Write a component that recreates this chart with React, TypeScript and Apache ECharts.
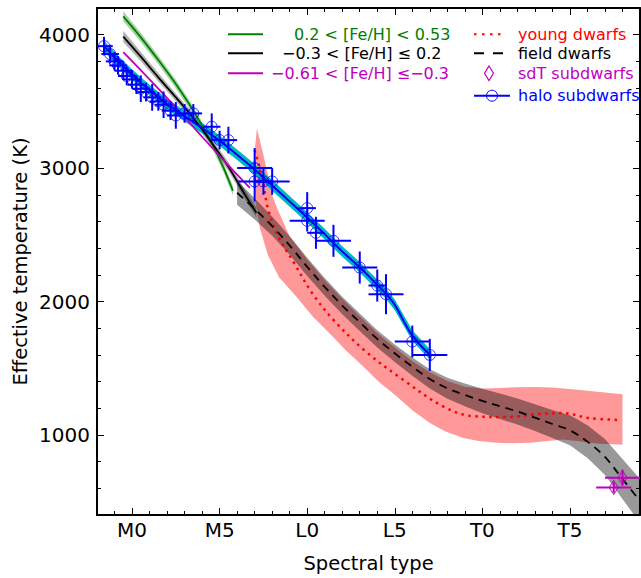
import React, { useEffect, useRef } from "react";
import * as echarts from "echarts";

// ---------- axis ticks ----------
const xTickValues = [0, 5, 10, 15, 20, 25];
const xTickLabels = ["M0", "M5", "L0", "L5", "T0", "T5"];
const yTickValues = [1000, 2000, 3000, 4000];

// ---------- 0.2 < [Fe/H] < 0.53 (green) ----------
const richSpT = [-0.5, 0.5, 1.5, 2.5, 3.5, 4.5, 5.2, 5.76];
const richT = [4137, 3980, 3810, 3630, 3430, 3200, 3010, 2830];
const richHi = [4175, 4015, 3843, 3662, 3462, 3232, 3043, 2865];
const richLo = [4100, 3946, 3778, 3598, 3398, 3168, 2977, 2795];

// ---------- -0.3 < [Fe/H] <= 0.2 (black) ----------
const solarSpT = [-0.5, 0.5, 1.5, 2.5, 3.5, 4.5, 5.5, 6.5, 7.1];
const solarT = [3985, 3835, 3680, 3530, 3375, 3200, 3010, 2790, 2665];
const solarHi = [4030, 3872, 3712, 3560, 3405, 3232, 3045, 2828, 2705];
const solarLo = [3945, 3800, 3650, 3502, 3347, 3170, 2978, 2755, 2628];

// ---------- -0.61 < [Fe/H] <= -0.3 (magenta) ----------
const poorSpT = [-0.5, 1, 2.5, 4, 5.5, 6.73];
const poorT = [3870, 3665, 3455, 3235, 3020, 2851];

// ---------- halo subdwarf fit (blue + cyan band) ----------
const haloFitSpT = [-1.6, -1, 0, 1, 2, 3, 4, 5, 6, 7, 8, 9, 10, 11, 12, 13, 14, 14.5, 15, 16, 17.1];
const haloFitT = [3914, 3830, 3700, 3585, 3480, 3390, 3300, 3205, 3100, 2990, 2870, 2750, 2630, 2505, 2375, 2257, 2125, 2058, 1975, 1745, 1590];
const haloFitHi = [3954, 3870, 3740, 3625, 3520, 3430, 3340, 3245, 3140, 3030, 2910, 2790, 2670, 2545, 2415, 2297, 2165, 2098, 2015, 1785, 1630];
const haloFitLo = [3874, 3790, 3660, 3545, 3440, 3350, 3260, 3165, 3060, 2950, 2830, 2710, 2590, 2465, 2335, 2217, 2085, 2018, 1935, 1705, 1550];

// ---------- halo subdwarfs data: [SpT, Teff, SpT err, Teff err] ----------
const haloSpT = [-1.6, -1.25, -1.0, -0.8, -0.5, -0.3, 0, 0.25, 0.5, 0.8, 1.15, 1.5, 1.8, 2.2, 2.5, 3.0, 3.5, 4.55, 5.0, 5.5, 7.0, 7.0, 7.5, 8.0, 10.0, 10.0, 10.5, 11.5, 13.0, 14.0, 14.5, 16.0, 17.0];
const haloTeff = [3914, 3855, 3800, 3770, 3730, 3690, 3665, 3625, 3595, 3570, 3530, 3500, 3475, 3430, 3395, 3410, 3410, 3310, 3210, 3210, 3000, 2900, 2900, 2900, 2700, 2605, 2515, 2455, 2255, 2120, 2055, 1700, 1600];
const haloSpTErr = [0.5, 0.5, 0.5, 0.5, 0.5, 0.5, 0.5, 0.5, 0.5, 0.5, 0.5, 0.5, 0.5, 0.5, 0.5, 0.5, 0.5, 0.5, 0.5, 0.5, 1, 1, 0.5, 1, 0.5, 1, 0.5, 1, 1, 0.5, 1, 1, 1];
const haloTeffErr = [70, 70, 70, 70, 70, 70, 70, 70, 100, 70, 100, 70, 100, 70, 100, 70, 70, 100, 70, 100, 150, 150, 100, 100, 120, 80, 120, 120, 120, 120, 150, 120, 120];

// ---------- sdT subdwarfs ----------
const sdtSpT = [27.5, 28.0];
const sdtTeff = [606, 680];
const sdtSpTErr = [1, 1];
const sdtTeffErr = [40, 60];

// ---------- field dwarfs (dashed + grey band) ----------
const fieldSpT = [6, 7, 8, 9, 10, 11, 12, 13, 14, 15, 16, 17, 18, 19, 20, 21, 22, 23, 24, 25, 26, 27, 28, 29];
const fieldT = [2815, 2695, 2565, 2420, 2260, 2110, 1970, 1845, 1720, 1612, 1512, 1420, 1350, 1300, 1255, 1215, 1176, 1130, 1082, 1035, 950, 835, 670, 505];
const fieldHi = [2905, 2775, 2637, 2490, 2328, 2176, 2035, 1910, 1785, 1678, 1580, 1492, 1428, 1385, 1347, 1311, 1274, 1230, 1187, 1147, 1072, 970, 820, 670];
const fieldLo = [2725, 2615, 2493, 2350, 2192, 2044, 1905, 1780, 1655, 1546, 1444, 1348, 1272, 1215, 1163, 1119, 1078, 1030, 977, 923, 828, 700, 520, 340];

// ---------- young dwarfs (dotted + red band) ----------
const youngSpT = [7.0, 7.47, 7.75, 8.3, 9.2, 10.3, 11.5, 13.3, 15.45, 17.73, 19.44, 21.4, 23.1, 24.6, 26.1, 27.9];
const youngT = [3134, 2903, 2700, 2500, 2300, 2060, 1862, 1630, 1416, 1216, 1141, 1134, 1156, 1164, 1126, 1112];
const youngUpSpT = [7.13, 7.5, 8.0, 8.27, 9, 10, 11, 12, 13, 14, 15, 16, 17, 18, 19, 20, 21, 22, 23, 24, 25, 26, 27, 28];
const youngUpT = [3297, 3100, 2800, 2703, 2490, 2315, 2160, 2020, 1890, 1765, 1655, 1555, 1470, 1405, 1362, 1348, 1352, 1358, 1360, 1355, 1345, 1332, 1318, 1305];
const youngLoSpT = [7.13, 7.02, 6.98, 7.05, 7.3, 7.75, 8.4, 9.4, 10.3, 11.3, 12.2, 13.2, 14.1, 15.1, 16.0, 17.0, 17.9, 18.9, 19.8, 20.8, 21.7, 22.7, 23.6, 24.6, 25.5, 26.5, 28];
const youngLoT = [3297, 3150, 2950, 2750, 2550, 2350, 2180, 2033, 1890, 1758, 1635, 1513, 1397, 1290, 1185, 1089, 1025, 978, 955, 941, 938, 941, 952, 965, 952, 935, 926];

const FONT = "DejaVu Sans";

const zip = (a: number[], b: number[]) => a.map((v, i) => [v, b[i]]);

function clipRect(params: any) {
  const cs = params.coordSys;
  return { type: "rect", shape: { x: cs.x, y: cs.y, width: cs.width, height: cs.height } };
}

function bandSeries(upper: number[][], lower: number[][], fill: string, z: number) {
  return {
    type: "custom",
    silent: true,
    z,
    data: [[0, 1000]],
    encode: { x: 0, y: 1 },
    renderItem: (params: any, api: any) => {
      const pts = [...upper, ...lower.slice().reverse()].map((p) => api.coord(p));
      return {
        type: "polygon",
        shape: { points: pts },
        style: { fill, stroke: "none" },
        clipPath: clipRect(params),
      };
    },
  };
}

function errorSeries(s: number[], t: number[], se: number[], te: number[], color: string, z: number) {
  return {
    type: "custom",
    silent: true,
    z,
    data: s.map((v, i) => [v, t[i], se[i], te[i]]),
    encode: { x: 0, y: 1 },
    renderItem: (params: any, api: any) => {
      const x = api.value(0), y = api.value(1), xe = api.value(2), ye = api.value(3);
      const l = api.coord([x - xe, y]), r = api.coord([x + xe, y]);
      const tp = api.coord([x, y + ye]), bt = api.coord([x, y - ye]);
      return {
        type: "group",
        clipPath: clipRect(params),
        children: [
          { type: "line", shape: { x1: l[0], y1: l[1], x2: r[0], y2: r[1] }, style: { stroke: color, lineWidth: 2 } },
          { type: "line", shape: { x1: tp[0], y1: tp[1], x2: bt[0], y2: bt[1] }, style: { stroke: color, lineWidth: 2 } },
        ],
      };
    },
  };
}

function lineSeries(s: number[], t: number[], color: string, width: number, z: number, type: any = "solid") {
  return {
    type: "line",
    data: zip(s, t),
    showSymbol: false,
    smooth: 0.35,
    silent: true,
    z,
    lineStyle: { color, width, type },
  };
}

const axisCommon = {
  type: "value",
  splitLine: { show: false },
  axisLine: { show: false, onZero: false },
};

export default function App() {
  const ref = useRef<HTMLDivElement>(null);
  useEffect(() => {
    if (!ref.current) return;
    const chart = echarts.init(ref.current, undefined, { renderer: "svg" });
    const tickStyle = { color: "#000", width: 1 };
    const frameLine = { show: true, onZero: false, lineStyle: { color: "#000", width: 2 } };
    const xMinor = (pos: string, extra: any = {}) => ({
      ...axisCommon,
      position: pos,
      min: -2,
      max: 29,
      interval: 1,
      axisTick: { show: true, inside: true, length: 4, lineStyle: tickStyle },
      axisLabel: { show: false },
      ...extra,
    });
    const xMajor = (pos: string, labels: boolean) => ({
      ...axisCommon,
      position: pos,
      min: -2,
      max: 29,
      axisTick: { show: true, inside: true, length: 7, lineStyle: tickStyle, customValues: xTickValues },
      axisLabel: labels
        ? {
            show: true,
            customValues: xTickValues,
            formatter: (v: number) => xTickLabels[xTickValues.indexOf(v)] ?? "",
            color: "#000",
            fontSize: 20,
            fontFamily: FONT,
            margin: 5,
          }
        : { show: false },
    });
    const yMinor = (pos: string, extra: any = {}) => ({
      ...axisCommon,
      position: pos,
      min: 400,
      max: 4200,
      interval: 200,
      axisTick: { show: true, inside: true, length: 4, lineStyle: tickStyle },
      axisLabel: { show: false },
      ...extra,
    });
    const yMajor = (pos: string, labels: boolean) => ({
      ...axisCommon,
      position: pos,
      min: 400,
      max: 4200,
      axisTick: { show: true, inside: true, length: 7, lineStyle: tickStyle, customValues: yTickValues },
      axisLabel: labels
        ? {
            show: true,
            customValues: yTickValues,
            formatter: (v: number) => String(v),
            color: "#000",
            fontSize: 20,
            fontFamily: FONT,
            margin: 7,
          }
        : { show: false },
    });

    const legendText = (x: number, y: number, text: string, fill: string) => ({
      type: "text",
      x,
      y,
      z: 100,
      style: { text, fill, fontSize: 16, fontFamily: FONT, verticalAlign: "middle", align: "left" },
    });
    const legendLine = (x1: number, x2: number, y: number, stroke: string, dash?: number[]) => ({
      type: "line",
      z: 100,
      shape: { x1, y1: y, x2, y2: y },
      style: { stroke, lineWidth: 2, lineDash: dash },
    });

    chart.setOption({
      animation: false,
      backgroundColor: "#fff",
      grid: { left: 97, right: 1, top: 8, bottom: 58, containLabel: false },
      xAxis: [
        xMinor("bottom", {
          axisLine: frameLine,
          name: "Spectral type",
          nameLocation: "middle",
          nameGap: 38,
          nameTextStyle: { color: "#000", fontSize: 19.5, fontFamily: FONT },
        }),
        xMajor("bottom", true),
        xMinor("top", { axisLine: frameLine }),
        xMajor("top", false),
      ],
      yAxis: [
        yMinor("left", {
          axisLine: frameLine,
          name: "Effective temperature (K)",
          nameLocation: "middle",
          nameGap: 67,
          nameTextStyle: { color: "#000", fontSize: 19.5, fontFamily: FONT },
        }),
        yMajor("left", true),
        yMinor("right", { axisLine: frameLine }),
        yMajor("right", false),
      ],
      series: [
        bandSeries(zip(youngUpSpT, youngUpT), zip(youngLoSpT, youngLoT), "rgba(255,0,0,0.4)", 1),
        bandSeries(zip(fieldSpT, fieldHi), zip(fieldSpT, fieldLo), "rgba(0,0,0,0.4)", 2),
        bandSeries(zip(richSpT, richHi), zip(richSpT, richLo), "rgba(0,128,0,0.35)", 3),
        bandSeries(zip(solarSpT, solarHi), zip(solarSpT, solarLo), "rgba(0,0,0,0.3)", 3),
        bandSeries(zip(haloFitSpT, haloFitHi), zip(haloFitSpT, haloFitLo), "rgb(0,185,190)", 4),
        lineSeries(richSpT, richT, "#008000", 1.8, 5),
        lineSeries(solarSpT, solarT, "#000000", 1.8, 5),
        lineSeries(poorSpT, poorT, "#bf00bf", 1.8, 5),
        lineSeries(youngSpT, youngT, "#ff0000", 2.5, 6, [2.5, 4.5]),
        lineSeries(fieldSpT, fieldT, "#000000", 1.8, 6, [8, 6]),
        lineSeries(haloFitSpT, haloFitT, "#0000ff", 2, 7),
        errorSeries(haloSpT, haloTeff, haloSpTErr, haloTeffErr, "#0000ff", 8),
        {
          type: "scatter",
          z: 9,
          silent: true,
          data: zip(haloSpT, haloTeff),
          symbol: "circle",
          symbolSize: 11,
          itemStyle: { color: "transparent", borderColor: "#0000ff", borderWidth: 1 },
        },
        errorSeries(sdtSpT, sdtTeff, sdtSpTErr, sdtTeffErr, "#bf00bf", 8),
        {
          type: "scatter",
          z: 9,
          silent: true,
          data: zip(sdtSpT, sdtTeff),
          symbol: "diamond",
          symbolSize: [9, 14],
          itemStyle: { color: "transparent", borderColor: "#bf00bf", borderWidth: 1.2 },
        },
      ],
      graphic: [
        legendLine(228, 263, 34.3, "#008000"),
        legendText(294, 34.3, "0.2 < [Fe/H] < 0.53", "#008000"),
        legendLine(228, 263, 53.3, "#000000"),
        legendText(282, 53.3, "\u22120.3 < [Fe/H] \u2264 0.2", "#000000"),
        legendLine(228, 263, 73.3, "#bf00bf"),
        legendText(271, 73.3, "\u22120.61 < [Fe/H] \u2264\u22120.3", "#bf00bf"),
        legendLine(474, 504, 34.3, "#ff0000", [2.5, 5.5]),
        legendText(518, 34.3, "young dwarfs", "#ff0000"),
        legendLine(474, 504, 53.3, "#000000", [10, 9]),
        legendText(518, 53.3, "field dwarfs", "#000000"),
        {
          type: "polygon",
          z: 100,
          shape: { points: [[489, 66], [493.5, 73.3], [489, 80.6], [484.5, 73.3]] },
          style: { fill: "none", stroke: "#bf00bf", lineWidth: 1.2 },
        },
        legendText(518, 73.3, "sdT subdwarfs", "#bf00bf"),
        legendLine(474, 510, 95.7, "#0000ff"),
        {
          type: "circle",
          z: 100,
          shape: { cx: 492, cy: 95.7, r: 5.5 },
          style: { fill: "none", stroke: "#0000ff", lineWidth: 1 },
        },
        legendText(518, 95.7, "halo subdwarfs", "#0000ff"),
      ],
    });
    return () => chart.dispose();
  }, []);
  return <div ref={ref} style={{ position: "absolute", left: 0, top: 0, width: 641, height: 578 }} />;
}
